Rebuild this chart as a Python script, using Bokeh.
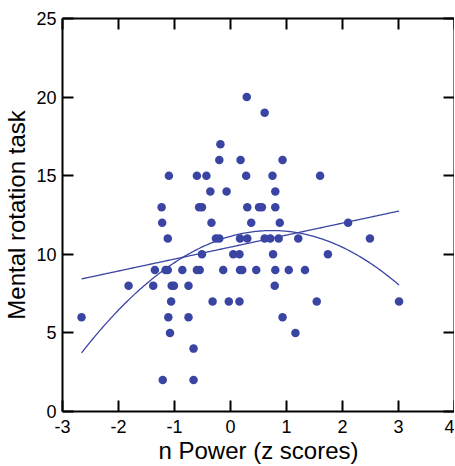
import numpy as np
from bokeh.plotting import figure
from bokeh.models import LinearAxis, FixedTicker, Range1d
from bokeh.embed import file_html
from bokeh.resources import INLINE

# n Power (z scores) and Mental rotation task scores
n_power = [
    0.29,
    0.61,
    -0.18,
    -0.20, 0.18, 0.93,
    -1.10, -0.60, -0.43, 0.28, 0.75, 1.60,
    -0.36, -0.07, 0.80,
    -1.23, -0.56, -0.51, 0.30, 0.51, 0.56, 0.80,
    -1.22, -0.34, 0.37, 0.88, 2.10,
    -1.12, -0.26, -0.20, 0.17, 0.30, 0.61, 0.71, 0.86, 1.21, 2.49,
    -0.51, 0.05, 0.16, 0.76, 1.74,
    -1.35, -1.16, -1.12, -0.86, -0.60, -0.55, -0.13, 0.17, 0.21, 0.46, 0.80, 1.04, 1.33,
    -1.82, -1.38, -1.05, -1.01, -0.75, 0.79,
    -1.06, -0.32, -0.03, 0.16, 1.54, 3.01,
    -2.66, -1.11, -0.75, 0.93,
    -1.08, 1.16,
    -0.66,
    -1.21, -0.66,
]
mental_rotation = (
    [20] * 1 + [19] * 1 + [17] * 1 + [16] * 3 + [15] * 6 + [14] * 3 + [13] * 7 +
    [12] * 5 + [11] * 10 + [10] * 5 + [9] * 13 + [8] * 6 + [7] * 6 + [6] * 4 +
    [5] * 2 + [4] * 1 + [2] * 2
)

x_ticks = [-3, -2, -1, 0, 1, 2, 3, 4]
x_tick_labels = ["-3", "-2", "-1", "0", "1", "2", "3", "4"]
y_ticks = [0, 5, 10, 15, 20, 25]

COLOR = "#3a44a2"
FONT = "Liberation Sans"

xs = np.array(n_power)
ys = np.array(mental_rotation, dtype=float)

# fitted linear and quadratic regressions over the data range
lin = np.polyfit(xs, ys, 1)
quad = np.polyfit(xs, ys, 2)
xf = np.linspace(xs.min(), xs.max(), 200)

p = figure(frame_width=392, frame_height=393, x_range=Range1d(-3, 4), y_range=Range1d(0, 25),
           output_backend="svg", toolbar_location=None,
           min_border_left=55, min_border_right=0, min_border_top=18, min_border_bottom=0)
p.grid.visible = False
p.outline_line_color = None
p.background_fill_color = "white"
p.border_fill_color = "white"

p.line(xf, np.polyval(lin, xf), line_color=COLOR, line_width=1.3)
p.line(xf, np.polyval(quad, xf), line_color=COLOR, line_width=1.3)
p.scatter(xs, ys, size=8.5, fill_color=COLOR, line_color=COLOR, line_width=0)

def style(ax, ticks, show_labels=True):
    ax.ticker = FixedTicker(ticks=ticks)
    ax.minor_tick_line_color = None
    ax.major_tick_in = 11
    ax.major_tick_out = 0
    ax.major_tick_line_width = 2
    ax.major_tick_line_color = "black"
    ax.axis_line_width = 2
    ax.axis_line_color = "black"
    ax.major_label_text_font = FONT
    if show_labels:
        ax.major_label_text_color = "black"
        ax.major_label_text_font_size = "18px"
    else:
        ax.major_label_text_color = None
        ax.major_label_text_font_size = "0px"
        ax.major_label_standoff = 0

xa = p.xaxis[0]
style(xa, x_ticks)
xa.major_label_overrides = {t: s for t, s in zip(x_ticks, x_tick_labels)}
xa.major_label_standoff = 8
xa.axis_label = "n Power (z scores)"
xa.axis_label_text_font = FONT
xa.axis_label_text_color = "black"
xa.axis_label_text_font_size = "24px"
xa.axis_label_text_font_style = "normal"
xa.axis_label_standoff = 1

ya = p.yaxis[0]
style(ya, y_ticks)
ya.major_label_standoff = 6
ya.axis_label = "Mental rotation task"
ya.axis_label_text_font = FONT
ya.axis_label_text_color = "black"
ya.axis_label_text_font_size = "24px"
ya.axis_label_text_font_style = "normal"
ya.axis_label_standoff = 3

top = LinearAxis()
style(top, x_ticks, show_labels=False)
p.add_layout(top, "above")

right = LinearAxis()
style(right, y_ticks, show_labels=False)
p.add_layout(right, "right")

open("out.html", "w").write(file_html(p, INLINE))
